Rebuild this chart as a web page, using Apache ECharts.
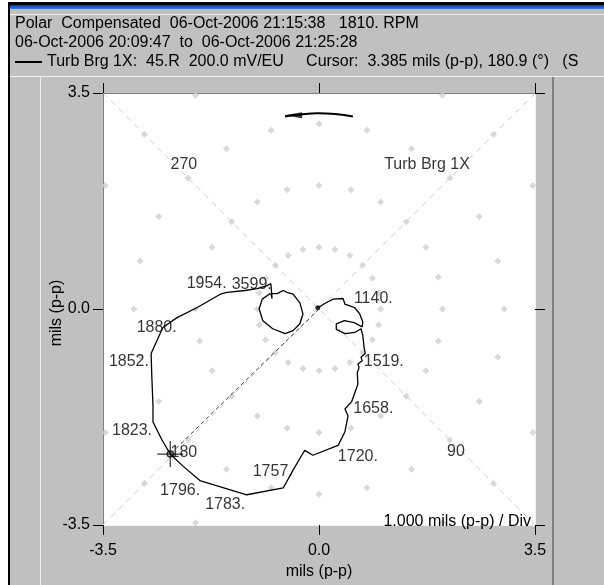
<!DOCTYPE html>
<html><head><meta charset="utf-8">
<script src="https://cdn.jsdelivr.net/npm/echarts@6/dist/echarts.min.js"></script>
<style>html,body{margin:0;padding:0;background:#fff;}#c{width:604px;height:585px;}</style>
</head><body><div id="c"></div>
<script>
// axis range and tick labels
const axisMin = -3.5, axisMax = 3.5, axisInterval = 3.5;
const axisTitle = 'mils (p-p)';

// 1X polar path (mils p-p), in order of the trace
const pathX = [-0.02,0.13,0.23,0.39,0.42,0.50,0.58,0.66,0.71,0.70,0.57,0.41,0.28,0.28,0.42,0.58,0.68,0.71,0.73,0.75,0.68,0.70,0.63,0.65,0.62,0.63,0.53,0.42,0.47,0.42,0.31,-0.10,-0.23,-0.28,-0.42,-0.58,-1.17,-1.93,-2.20,-2.41,-2.54,-2.69,-2.69,-2.71,-2.72,-2.53,-2.30,-1.98,-1.60,-1.49,-1.20,-1.00,-0.84,-0.78,-0.76,-0.78,-0.68,-0.58,-0.52,-0.42,-0.31,-0.26,-0.31,-0.42,-0.55,-0.75,-0.91,-0.97,-0.92,-0.79];
const pathY = [0.02,0.11,0.16,0.17,0.08,0.05,0.02,-0.08,-0.21,-0.29,-0.22,-0.19,-0.24,-0.33,-0.40,-0.38,-0.32,-0.43,-0.62,-0.72,-0.78,-0.84,-0.89,-0.95,-1.03,-1.22,-1.50,-1.62,-1.73,-1.99,-2.21,-2.37,-2.29,-2.37,-2.61,-2.90,-3.01,-2.78,-2.55,-2.35,-2.13,-1.83,-1.57,-1.07,-0.72,-0.30,-0.14,0.02,0.24,0.27,0.30,0.33,0.38,0.41,0.17,0.25,0.25,0.30,0.27,0.24,0.10,-0.08,-0.24,-0.35,-0.40,-0.32,-0.19,0.00,0.16,0.25];

// RPM annotations
const rpmLabels = ['1140.','1519.','1658.','1720.','1757.','1783.','1796.','1823.','1852.','1880.','1954.','3599.'];
const rpmLabelX = [0.88,1.05,0.88,0.63,-0.75,-1.52,-2.25,-3.03,-3.08,-2.63,-1.82,-1.09];
const rpmLabelY = [0.17,-0.86,-1.61,-2.39,-2.64,-3.17,-2.94,-1.97,-0.86,-0.30,0.41,0.40];

// angle / probe annotations
const angleLabels = ['270','Turb Brg 1X','180','90'];
const angleLabelX = [-2.19,1.75,-2.19,2.22];
const angleLabelY = [2.34,2.34,-2.32,-2.31];

// cursor
const cursorX = -2.41, cursorY = -2.35;

// polar grid marks
const ringRadii = [1,2,3,4];
const ringStepDeg = 15;

// rotation arrow
const arrowX = [-0.55,-0.31,-0.02,0.26,0.55];
const arrowY = [3.12,3.15,3.17,3.16,3.12];
const arrowHeadX = -0.42, arrowHeadY = 3.14;

// header
const headerLines = [
  'Polar  Compensated  06-Oct-2006 21:15:38   1810. RPM',
  '06-Oct-2006 20:09:47  to  06-Oct-2006 21:25:28',
  'Turb Brg 1X:  45.R  200.0 mV/EU     Cursor:  3.385 mils (p-p), 180.9 (°)   (S'
];
const scaleNote = '1.000 mils (p-p) / Div';

const FONT = '"Liberation Sans", Arial, sans-serif';

const dotData = [];
ringRadii.forEach(r => {
  for (let a = 0; a < 360; a += ringStepDeg) {
    const x = r * Math.cos(a * Math.PI / 180), y = r * Math.sin(a * Math.PI / 180);
    if (Math.abs(x) <= axisMax + 1e-9 && Math.abs(y) <= axisMax + 1e-9) dotData.push([x, y]);
  }
});
const pathData = pathX.map((x, i) => [x, pathY[i]]);
const rpmData = rpmLabels.map((t, i) => ({ name: t, value: [rpmLabelX[i], rpmLabelY[i]] }));
const angleData = angleLabels.map((t, i) => ({ name: t, value: [angleLabelX[i], angleLabelY[i]] }));
const arrowData = arrowX.map((x, i) => [x, arrowY[i]]);

const labelStyle = { show: true, position: 'inside', formatter: p => p.name, color: '#000', fontSize: 16, fontFamily: FONT };

function mkAxis(pos, showLabel, lineColor, extra) {
  return Object.assign({
    type: 'value', position: pos, min: axisMin, max: axisMax, interval: axisInterval,
    axisLine: { show: true, onZero: false, lineStyle: { color: lineColor, width: 1 } },
    axisTick: { show: true, length: 10, inside: false, lineStyle: { color: '#000', width: 1 } },
    axisLabel: { show: showLabel, formatter: v => v.toFixed(1), color: '#000', fontSize: 16, fontFamily: FONT, showMinLabel: true, showMaxLabel: true },
    splitLine: { show: false }
  }, extra || {});
}

const headerGraphics = headerLines.map((t, i) => ({
  type: 'text', z: 10,
  style: { text: t, x: i === 2 ? 47 : 15, y: 24 + i * 19, fill: '#000', font: '16px ' + FONT, verticalAlign: 'middle' }
}));

const chart = echarts.init(document.getElementById('c'));
chart.setOption({
  backgroundColor: '#c0c0c0',
  animation: false,
  grid: { left: 103, top: 93, width: 432, height: 440, show: true, backgroundColor: '#ffffff', borderWidth: 0 },
  xAxis: [
    mkAxis('bottom', true, '#f2f2f2', { name: axisTitle, nameLocation: 'middle', nameGap: 39, nameTextStyle: { color: '#000', fontSize: 16, fontFamily: FONT }, axisLabel: { show: true, formatter: v => v.toFixed(1), color: '#000', fontSize: 16, fontFamily: FONT, margin: 18, showMinLabel: true, showMaxLabel: true } }),
    mkAxis('top', false, '#808080')
  ],
  yAxis: [
    mkAxis('left', true, '#808080', { axisLabel: { show: true, formatter: v => v.toFixed(1), color: '#000', fontSize: 16, fontFamily: FONT, margin: 13, showMinLabel: true, showMaxLabel: true } }),
    mkAxis('right', false, '#f2f2f2')
  ],
  graphic: [
    { type: 'rect', shape: { x: 0, y: 0, width: 604, height: 2 }, style: { fill: '#ffffff' } },
    { type: 'rect', shape: { x: 0, y: 0, width: 8, height: 585 }, style: { fill: '#ffffff' } },
    { type: 'rect', shape: { x: 8, y: 2, width: 596, height: 3 }, style: { fill: '#000000' } },
    { type: 'rect', shape: { x: 8, y: 2, width: 2, height: 583 }, style: { fill: '#000000' } },
    { type: 'rect', shape: { x: 10, y: 5, width: 594, height: 4 }, style: { fill: new echarts.graphic.LinearGradient(0, 0, 0, 1, [{ offset: 0, color: '#0a3ab8' }, { offset: 1, color: '#3a78e8' }]) } },
    { type: 'rect', shape: { x: 10, y: 14, width: 594, height: 1 }, style: { fill: '#ececec' } },
    { type: 'rect', shape: { x: 10, y: 76, width: 594, height: 1 }, style: { fill: '#f0f0f0' } },
    { type: 'rect', shape: { x: 40, y: 77, width: 1, height: 508 }, style: { fill: '#f0f0f0' } },
    { type: 'rect', shape: { x: 552, y: 77, width: 2, height: 508 }, style: { fill: '#7f7f7f' } },
    { type: 'rect', z: 10, shape: { x: 15, y: 61, width: 27, height: 2 }, style: { fill: '#000' } },
    ...headerGraphics,
    { type: 'text', z: 10, x: 57, y: 313, rotation: Math.PI / 2, style: { text: axisTitle, x: 0, y: 0, align: 'center', verticalAlign: 'middle', fill: '#000', font: '16px ' + FONT } },
    { type: 'text', z: 100, style: { text: scaleNote, x: 531, y: 522, align: 'right', verticalAlign: 'middle', fill: '#000', font: '16px ' + FONT } }
  ],
  series: [
    { type: 'line', silent: true, symbol: 'none', data: [[axisMin, axisMin], [axisMax, axisMax]], lineStyle: { color: '#cfcfcf', width: 1, type: [6, 5] }, z: 1 },
    { type: 'line', silent: true, symbol: 'none', data: [[axisMin, axisMax], [axisMax, axisMin]], lineStyle: { color: '#cfcfcf', width: 1, type: [6, 5] }, z: 1 },
    { type: 'scatter', silent: true, symbol: 'diamond', symbolSize: 7, data: dotData, itemStyle: { color: '#cfcfcf' }, z: 1 },
    { type: 'line', silent: true, symbol: 'none', data: [[0, 0], [cursorX, cursorY]], lineStyle: { color: '#404040', width: 1, type: [4, 3] }, z: 2 },
    { type: 'line', silent: true, symbol: 'none', data: pathData, lineStyle: { color: '#000', width: 1.3 }, z: 3 },
    { type: 'scatter', silent: true, symbol: 'circle', symbolSize: 5, data: [pathData[0]], itemStyle: { color: '#000' }, z: 4 },
    { type: 'scatter', silent: true, symbol: 'path://M13 0L13 26M0 13L26 13', symbolSize: 26, data: [[cursorX, cursorY]], itemStyle: { color: 'rgba(0,0,0,0)', borderColor: '#000', borderWidth: 1.2 }, z: 5 },
    { type: 'scatter', silent: true, symbol: 'circle', symbolSize: 6, data: [[cursorX, cursorY]], itemStyle: { color: 'rgba(0,0,0,0)', borderColor: '#000', borderWidth: 1.5 }, z: 5 },
    { type: 'line', silent: true, symbol: 'none', smooth: true, data: arrowData, lineStyle: { color: '#000', width: 2 }, z: 4 },
    { type: 'scatter', silent: true, symbol: 'triangle', symbolRotate: 90, symbolSize: [6, 18], data: [[arrowHeadX, arrowHeadY]], itemStyle: { color: '#000' }, z: 4 },
    { type: 'scatter', silent: true, symbolSize: 1, data: rpmData, itemStyle: { color: 'rgba(0,0,0,0)' }, label: labelStyle, z: 6 },
    { type: 'scatter', silent: true, symbolSize: 1, data: angleData, itemStyle: { color: 'rgba(0,0,0,0)' }, label: labelStyle, z: 6 }
  ]
});
</script>
</body></html>
